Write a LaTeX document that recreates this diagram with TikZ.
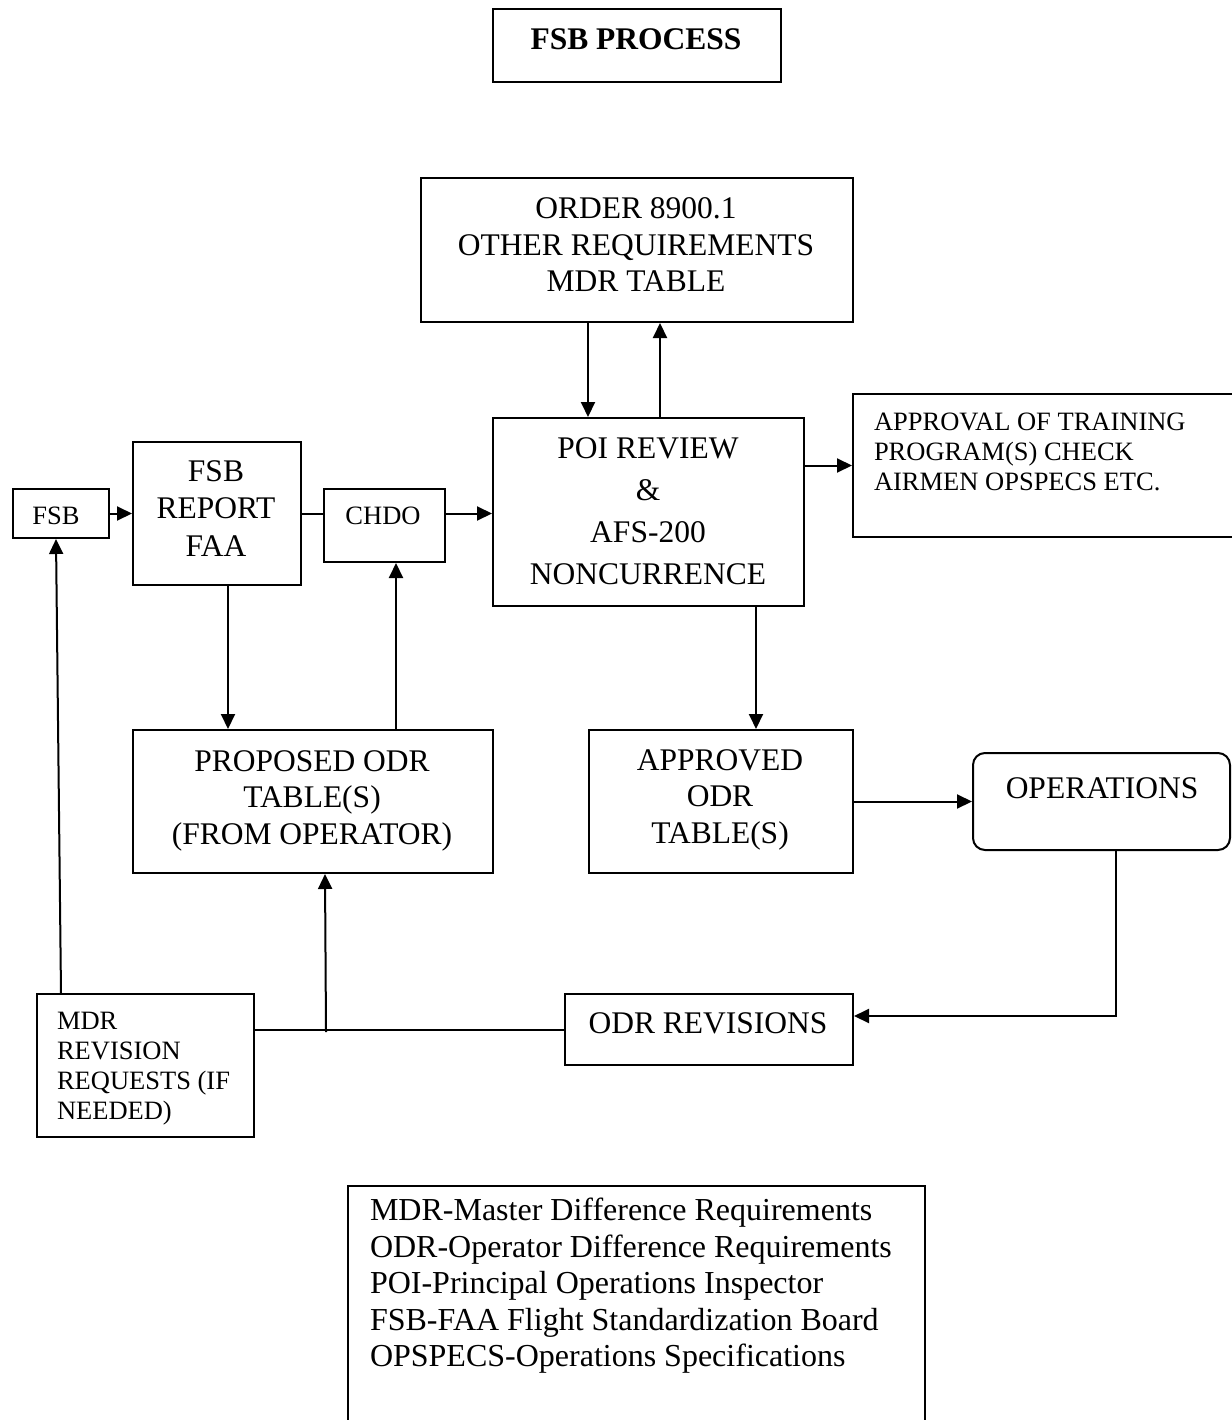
\documentclass[tikz,border=0pt]{standalone}
\usepackage{fontspec}
\setmainfont{Liberation Serif}
\usetikzlibrary{arrows.meta}
\begin{document}
\begin{tikzpicture}[x=1pt,y=-1pt,line width=2pt,
  box/.style={draw,rectangle,inner sep=0pt,anchor=north west},
  lbl/.style={inner sep=0pt,anchor=north,align=center,font=\fontsize{31.5}{36.5}\selectfont},
  sml/.style={inner sep=0pt,font=\fontsize{26.5}{30.2}\selectfont},
  arr/.style={-{Triangle[length=15pt,width=14pt]}}]
\useasboundingbox (0,0) rectangle (1231,1420);

% boxes
\node[box,minimum width=288pt,minimum height=73pt] (title) at (492,8) {};
\node[box,minimum width=432pt,minimum height=144pt] (order) at (420,177) {};
\node[box,minimum width=311pt,minimum height=188pt] (poi) at (492,417) {};
\node[box,minimum width=393pt,minimum height=143pt] (appr) at (852,393) {};
\node[box,minimum width=96pt,minimum height=49pt] (fsb) at (12,488) {};
\node[box,minimum width=168pt,minimum height=143pt] (report) at (132,441) {};
\node[box,minimum width=121pt,minimum height=73pt] (chdo) at (323,488) {};
\node[box,minimum width=360pt,minimum height=143pt] (prop) at (132,729) {};
\node[box,minimum width=264pt,minimum height=143pt] (aodr) at (588,729) {};
\node[box,rounded corners=12pt,minimum width=257pt,minimum height=97pt] (ops) at (972,752) {};
\node[box,minimum width=288pt,minimum height=71pt] (odrrev) at (564,993) {};
\node[box,minimum width=217pt,minimum height=143pt] (mdr) at (36,993) {};
\node[box,minimum width=577pt,minimum height=255pt] (legend) at (347,1185) {};

% texts
\node[lbl,font=\bfseries\fontsize{31.5}{36.5}\selectfont] (ttitle) at (636,27.6) {FSB PROCESS};
\node[lbl] (torder) at (636,196.6) {ORDER 8900.1\\OTHER REQUIREMENTS\\MDR TABLE};
\node[lbl,font=\fontsize{31.5}{42}\selectfont] (tpoi) at (648,436.6) {POI REVIEW\\\&\\AFS-200\\NONCURRENCE};
\node[lbl,font=\fontsize{31.5}{37.5}\selectfont] (treport) at (216,459.6) {FSB\\REPORT\\FAA};
\node[lbl] (tprop) at (312,749.6) {PROPOSED ODR\\TABLE(S)\\(FROM OPERATOR)};
\node[lbl] (taodr) at (720,748.6) {APPROVED\\ODR\\TABLE(S)};
\node[lbl] (todrrev) at (708,1012) {ODR REVISIONS};
\node[lbl] (tops) at (1102,776.6) {OPERATIONS};
\node[sml,anchor=north] (tchdo) at (383,506) {CHDO};
\node[sml,anchor=north] (tfsb) at (56,506) {FSB};
\node[sml,anchor=north west,align=left] (tappr) at (873,412) {APPROVAL OF TRAINING\\PROGRAM(S) CHECK\\AIRMEN OPSPECS ETC.};
\node[sml,anchor=north west,align=left] (tmdr) at (56,1011) {MDR\\REVISION\\REQUESTS (IF\\NEEDED)};
\node[inner sep=0pt,anchor=north west,align=left,font=\fontsize{32}{36.6}\selectfont] (tleg) at (369,1197)
  {MDR-Master Difference Requirements\\ODR-Operator Difference Requirements\\POI-Principal Operations Inspector\\FSB-FAA Flight Standardization Board\\OPSPECS-Operations Specifications};

% connectors
\draw[arr] (fsb.east) -- (report.west |- fsb.east);
\draw (report.east |- fsb.east) -- (chdo.west |- fsb.east);
\draw[arr] (chdo.east |- fsb.east) -- (poi.west |- fsb.east);
\draw[arr] (588,0 |- order.south) -- (588,0 |- poi.north);
\draw[arr] (660,0 |- poi.north) -- (660,0 |- order.south);
\draw[arr] (poi.east |- appr.west) -- (appr.west);
\draw[arr] (228,0 |- report.south) -- (228,0 |- prop.north);
\draw[arr] (396,0 |- prop.north) -- (396,0 |- chdo.south);
\draw[arr] (756,0 |- poi.south) -- (756,0 |- aodr.north);
\draw[arr] (aodr.east) -- (ops.west |- aodr.east);
\draw[arr] (1116,0 |- ops.south) |- (odrrev.east |- 0,1016);
\draw (odrrev.west) -- (mdr.east |- odrrev.west);
\coordinate (j) at (326,1032);
\draw[arr] (j) -- (325,0 |- prop.south);
\draw[arr] (61,0 |- mdr.north) -- (56,0 |- fsb.south);
\end{tikzpicture}
\end{document}
